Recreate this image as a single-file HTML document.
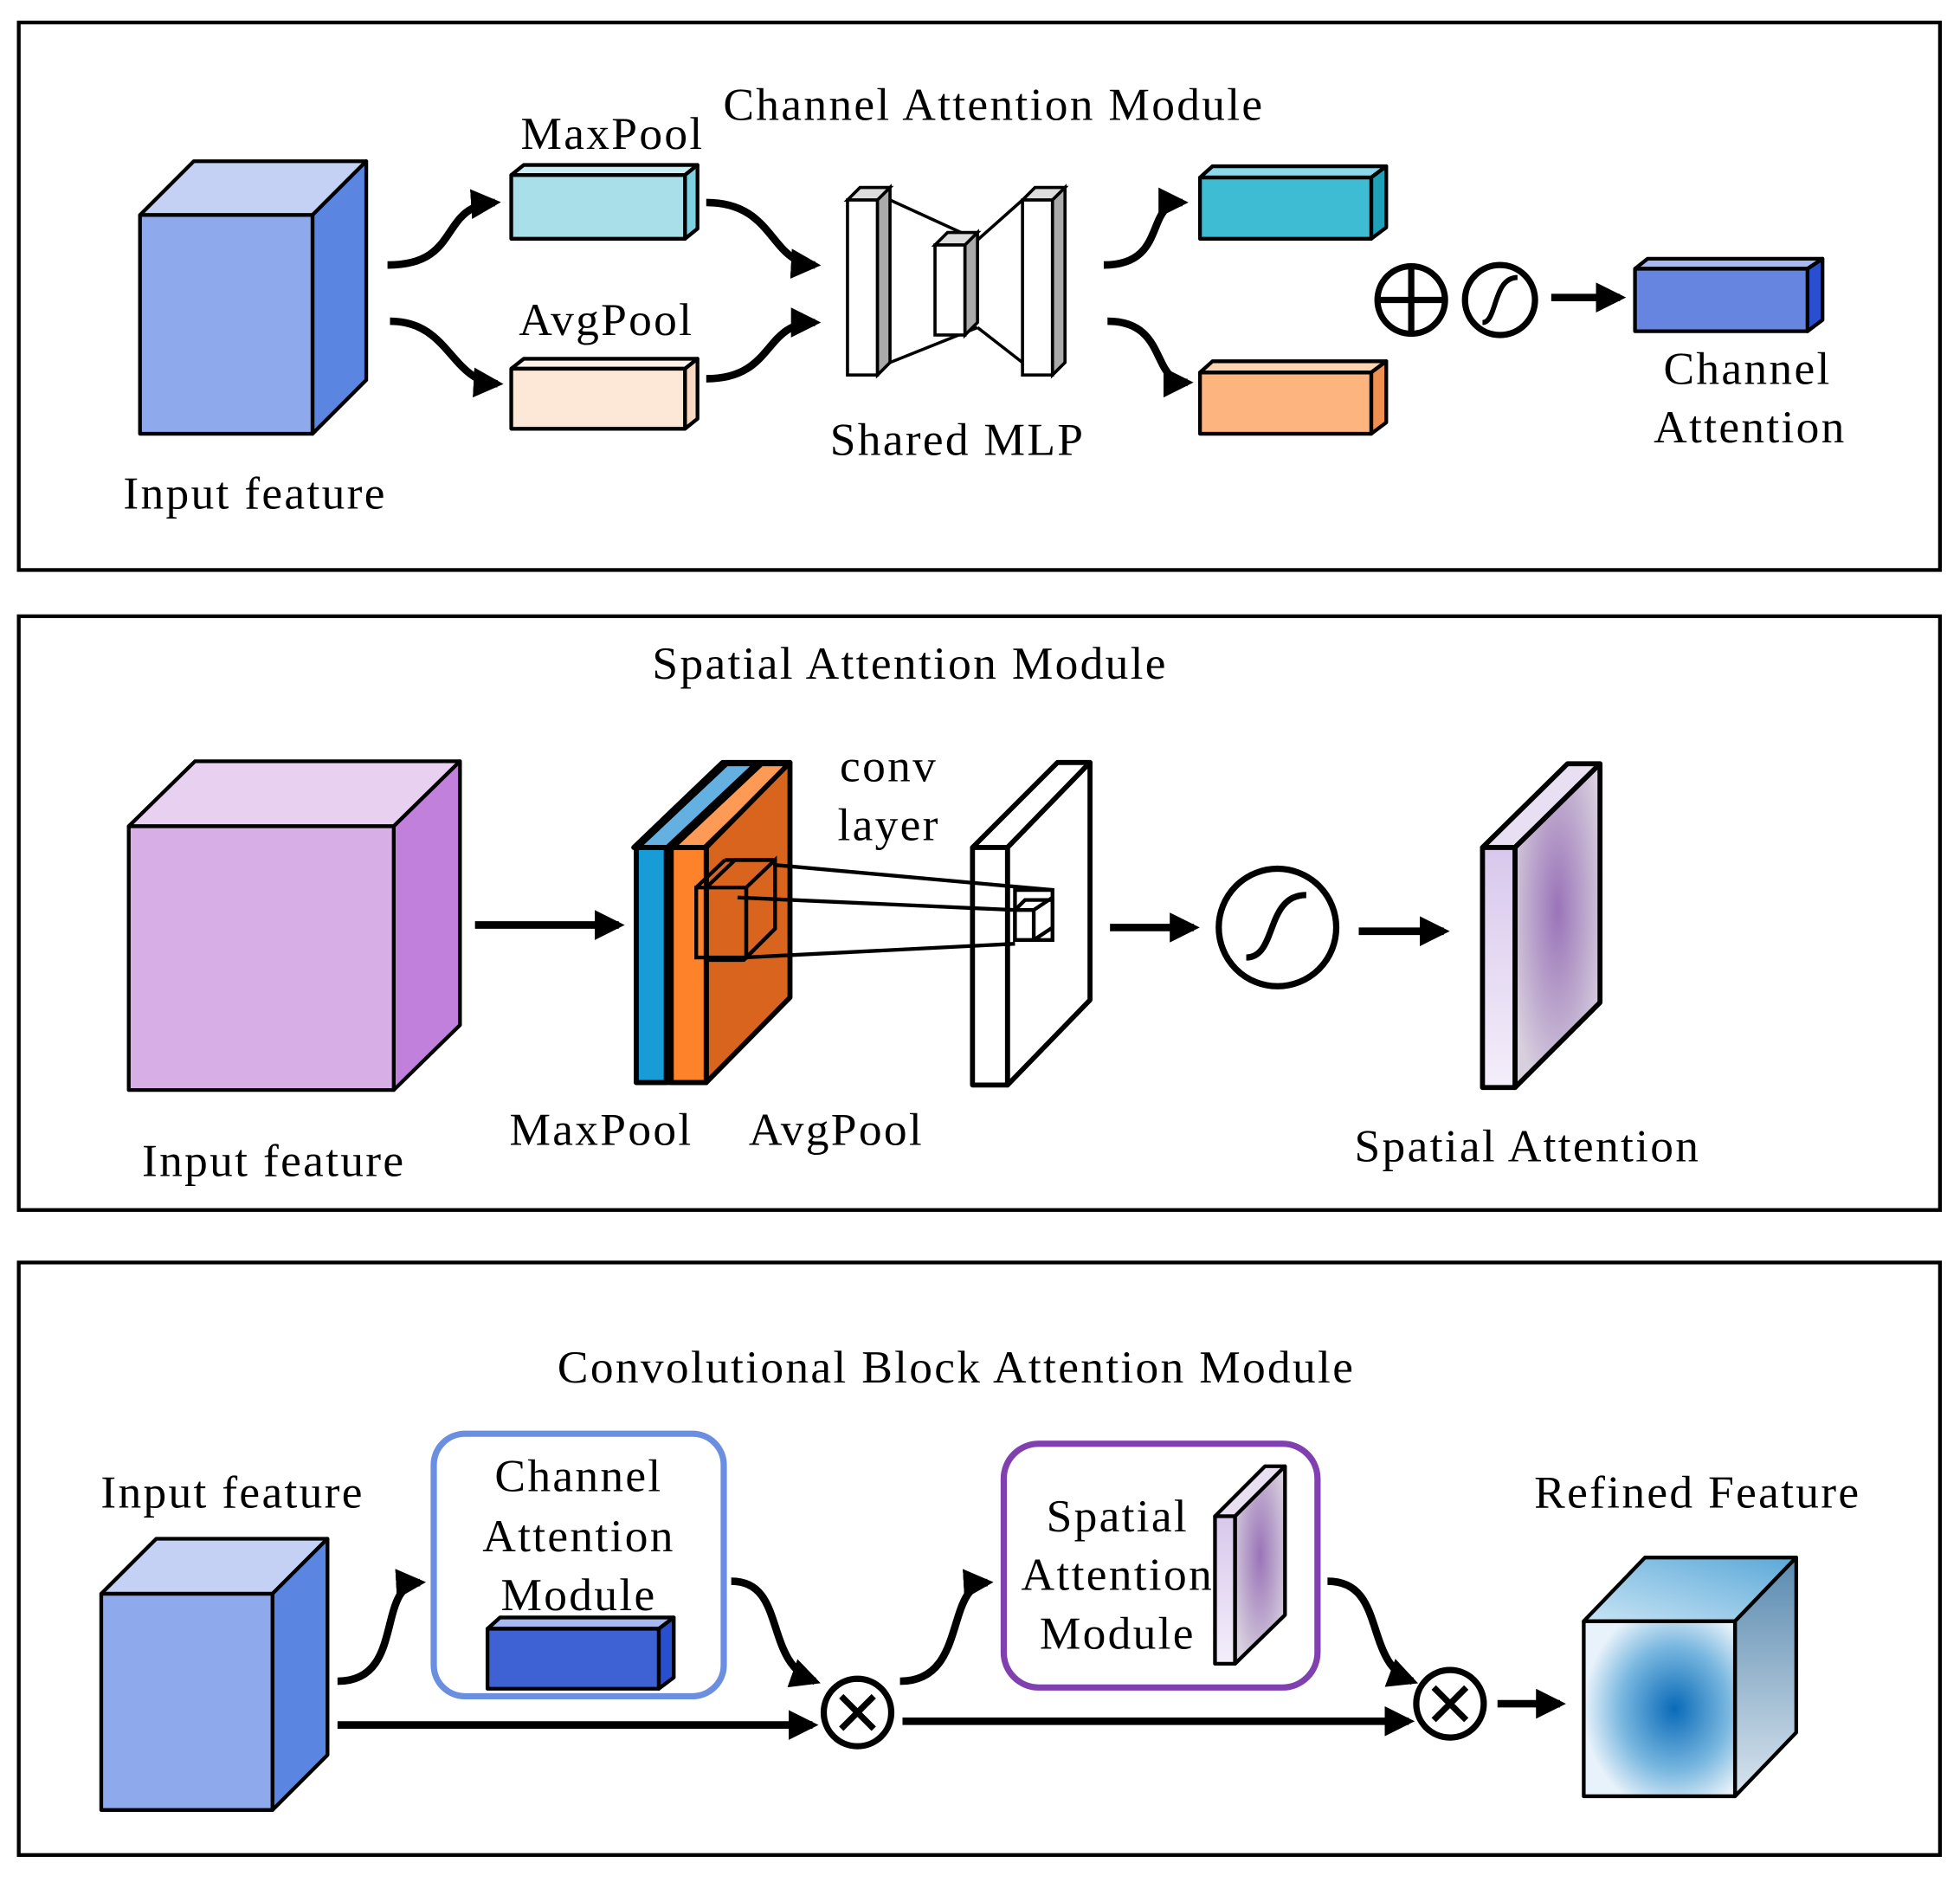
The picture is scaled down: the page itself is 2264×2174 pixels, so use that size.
<!DOCTYPE html>
<html><head><meta charset="utf-8"><style>
html,body{margin:0;padding:0;background:#fff}
svg{display:block}
text{font-family:"Liberation Serif",serif;font-size:37px;fill:#000;letter-spacing:1.6px}
</style></head><body>
<svg width="2264" height="2174" viewBox="0 0 1568 1505.6" preserveAspectRatio="none" xmlns="http://www.w3.org/2000/svg">
<defs>
<marker id="ah" viewBox="0 0 10 10" refX="8" refY="5" markerWidth="4" markerHeight="4" orient="auto"><path d="M0,0 L10,5 L0,10 z" fill="#000"/></marker>
<radialGradient id="sp" cx="0.5" cy="0.45" r="0.6"><stop offset="0" stop-color="#9a74b8"/><stop offset="1" stop-color="#d8d0de"/></radialGradient>
<linearGradient id="spf" x1="0" y1="0" x2="0" y2="1"><stop offset="0" stop-color="#d8c8ec"/><stop offset="1" stop-color="#f4eefa"/></linearGradient>
<radialGradient id="rf" cx="0.6" cy="0.5" r="0.6"><stop offset="0" stop-color="#0a6ab8"/><stop offset="0.6" stop-color="#7ab8e0"/><stop offset="1" stop-color="#e8f2fa"/></radialGradient>
<linearGradient id="rft" x1="0" y1="1" x2="1" y2="0"><stop offset="0" stop-color="#c8e4f4"/><stop offset="1" stop-color="#5aa8d8"/></linearGradient>
<linearGradient id="rfs" x1="0" y1="0" x2="0" y2="1"><stop offset="0" stop-color="#5a8ab0"/><stop offset="1" stop-color="#d8e4ee"/></linearGradient>
</defs>
<g fill="none" stroke="#000" stroke-width="3">
<rect x="15" y="18" width="1537" height="438"/>
<rect x="15" y="493" width="1537" height="475"/>
<rect x="15" y="1010" width="1537" height="474"/>
</g>
<g stroke="#000" stroke-width="3" stroke-linejoin="round">
<polygon points="112,172 155,129 293,129 250,172" fill="#c4d0f4"/>
<polygon points="250,172 293,129 293,304 250,347" fill="#5a86e2"/>
<rect x="112" y="172" width="138" height="175" fill="#8eaaec"/>
<polygon points="409,140 419,132 558,132 548,140" fill="#c8eef4"/>
<polygon points="548,140 558,132 558,183 548,191" fill="#7cd0e0"/>
<rect x="409" y="140" width="139" height="51" fill="#a8dfe8"/>
<polygon points="409,295 419,287 558,287 548,295" fill="#fff4ec"/>
<polygon points="548,295 558,287 558,335 548,343" fill="#f8d8c0"/>
<rect x="409" y="295" width="139" height="48" fill="#fde8d8"/>
<polygon points="960,142 970,133 1109,133 1097,142" fill="#8ad8e8"/>
<polygon points="1097,142 1109,133 1109,182 1097,191" fill="#1ea0b8"/>
<rect x="960" y="142" width="137" height="49" fill="#3dbcd4"/>
<polygon points="960,298 970,289 1109,289 1097,298" fill="#fdd4b0"/>
<polygon points="1097,298 1109,289 1109,338 1097,347" fill="#f09050"/>
<rect x="960" y="298" width="137" height="49" fill="#fdb47e"/>
<polygon points="1308,215 1318,207 1458,207 1446,215" fill="#a8b8f0"/>
<polygon points="1446,215 1458,207 1458,256 1446,265" fill="#2a4ed0"/>
<rect x="1308" y="215" width="138" height="50" fill="#6685e0"/>
</g>
<g stroke="#000" stroke-width="2.5" fill="#fff">
<line x1="712" y1="160" x2="782" y2="192"/><line x1="712" y1="290" x2="782" y2="262"/>
<line x1="782" y1="192" x2="818" y2="160"/><line x1="782" y1="262" x2="818" y2="290"/>
<polygon points="678,160 688,150 712,150 702,160" fill="#ddd"/>
<rect x="678" y="160" width="24" height="140"/><polygon points="702,160 712,150 712,290 702,300" fill="#aaa"/>
<polygon points="748,196 758,186 782,186 772,196" fill="#ddd"/>
<rect x="748" y="196" width="24" height="72"/><polygon points="772,196 782,186 782,258 772,268" fill="#aaa"/>
<polygon points="818,160 828,150 852,150 842,160" fill="#ddd"/>
<rect x="818" y="160" width="24" height="140"/><polygon points="842,160 852,150 852,290 842,300" fill="#aaa"/>
</g>
<g fill="none" stroke="#000" stroke-width="6" marker-end="url(#ah)">
<path d="M310,212 C370,212 350,165 396,162"/>
<path d="M312,257 C360,257 360,305 398,307"/>
<path d="M565,162 C620,162 615,210 652,212"/>
<path d="M565,303 C620,303 610,258 652,258"/>
<path d="M883,212 C935,212 915,162 946,162"/>
<path d="M886,257 C935,257 920,306 950,306"/>
<path d="M1241,238 L1296,238"/>
</g>
<g fill="none" stroke="#000" stroke-width="5">
<circle cx="1129" cy="240" r="27"/><line x1="1102" y1="240" x2="1156" y2="240"/><line x1="1129" y1="213" x2="1129" y2="267"/>
<circle cx="1200" cy="240" r="28"/><path d="M1186,258 C1198,258 1194,222 1214,222" stroke-width="4"/>
</g>
<text x="795" y="96" text-anchor="middle">Channel Attention Module</text>
<text x="490" y="119" text-anchor="middle">MaxPool</text>
<text x="485" y="268" text-anchor="middle">AvgPool</text>
<text x="766" y="364" text-anchor="middle">Shared MLP</text>
<text x="204" y="407" text-anchor="middle">Input feature</text>
<text x="1398" y="307" text-anchor="middle">Channel</text>
<text x="1400" y="354" text-anchor="middle">Attention</text>
<g stroke="#000" stroke-width="3" stroke-linejoin="round">
<polygon points="103,661 156,609 368,609 315,661" fill="#e8d0f0"/>
<polygon points="315,661 368,609 368,820 315,872" fill="#c080dc"/>
<rect x="103" y="661" width="212" height="211" fill="#d8aee6"/>
</g>
<g stroke="#000" stroke-width="4" stroke-linejoin="round">
<polygon points="507,678 578,610 632,610 565,678" fill="#000"/>
<polygon points="515,676 582,613 600,613 533,676" fill="#64b0e0" stroke="none"/>
<polygon points="543,676 610,613 628,613 563,676" fill="#fd9a56" stroke="none"/>
<polygon points="565,678 632,610 632,798 565,866" fill="#d8641e"/>
<rect x="509" y="678" width="24" height="188" fill="#189cd8"/>
<rect x="537" y="678" width="28" height="188" fill="#fd822a"/>
<rect x="509" y="678" width="56" height="188" fill="none"/>
</g>
<g fill="none" stroke="#000" stroke-width="3">
<rect x="557" y="710" width="40" height="56"/>
<polygon points="597,710 620,688 620,743 597,766"/>
<line x1="557" y1="710" x2="580" y2="688"/><line x1="580" y1="688" x2="620" y2="688"/>
<polygon points="565,710 588,688 620,688 620,743 595,768 565,768"/>
</g>
<g stroke="#000" stroke-width="4" stroke-linejoin="round" fill="#fff">
<polygon points="778,678 846,610 872,610 806,678"/>
<polygon points="806,678 872,610 872,800 806,868"/>
<rect x="778" y="678" width="28" height="190"/>
</g>
<g fill="none" stroke="#000" stroke-width="3">
<line x1="620" y1="692" x2="842" y2="712"/>
<line x1="590" y1="718" x2="812" y2="728"/>
<line x1="595" y1="766" x2="812" y2="755"/>
<rect x="812" y="712" width="30" height="40" fill="none"/>
<polygon points="812,728 820,720 842,720 842,742 827,752 812,752" fill="#fff"/>
<line x1="827" y1="728" x2="827" y2="752"/><line x1="812" y1="728" x2="827" y2="728"/><line x1="827" y1="728" x2="842" y2="718"/>
</g>
<g fill="none" stroke="#000" stroke-width="6" marker-end="url(#ah)">
<path d="M380,740 L495,740"/>
<path d="M888,742 L955,742"/>
<path d="M1087,745 L1155,745"/>
</g>
<g fill="none" stroke="#000" stroke-width="5">
<circle cx="1022" cy="742" r="47"/>
<path d="M997,766 C1022,766 1012,716 1045,716" stroke-width="5"/>
</g>
<g stroke="#000" stroke-width="4" stroke-linejoin="round">
<polygon points="1186,678 1254,611 1280,611 1212,678" fill="#e8e0f2"/>
<polygon points="1212,678 1280,611 1280,802 1212,870" fill="url(#sp)"/>
<rect x="1186" y="678" width="26" height="192" fill="url(#spf)"/>
</g>
<text x="728" y="543" text-anchor="middle">Spatial Attention Module</text>
<text x="711" y="625" text-anchor="middle">conv</text>
<text x="711" y="672" text-anchor="middle">layer</text>
<text x="481" y="916" text-anchor="middle">MaxPool</text>
<text x="669" y="916" text-anchor="middle">AvgPool</text>
<text x="219" y="941" text-anchor="middle">Input feature</text>
<text x="1222" y="929" text-anchor="middle">Spatial Attention</text>
<text x="765" y="1106" text-anchor="middle">Convolutional Block Attention Module</text>
<text x="186" y="1206" text-anchor="middle">Input feature</text>
<text x="1358" y="1206" text-anchor="middle">Refined Feature</text>
<g stroke="#000" stroke-width="3" stroke-linejoin="round">
<polygon points="81,1275 125,1231 262,1231 218,1275" fill="#c4d0f4"/>
<polygon points="218,1275 262,1231 262,1404 218,1448" fill="#5a86e2"/>
<rect x="81" y="1275" width="137" height="173" fill="#8eaaec"/>
</g>
<rect x="347" y="1147" width="232" height="210" rx="25" fill="none" stroke="#6a8ee0" stroke-width="5"/>
<text x="463" y="1193" text-anchor="middle">Channel</text>
<text x="463" y="1241" text-anchor="middle">Attention</text>
<text x="463" y="1288" text-anchor="middle">Module</text>
<g stroke="#000" stroke-width="3" stroke-linejoin="round">
<polygon points="390,1303 400,1294 539,1294 527,1303" fill="#a8b8f0"/>
<polygon points="527,1303 539,1294 539,1342 527,1351" fill="#2a4ed0"/>
<rect x="390" y="1303" width="137" height="48" fill="#3e62d4"/>
</g>
<rect x="803" y="1155" width="251" height="195" rx="28" fill="none" stroke="#8040b0" stroke-width="5"/>
<text x="894" y="1225" text-anchor="middle">Spatial</text>
<text x="894" y="1272" text-anchor="middle">Attention</text>
<text x="894" y="1319" text-anchor="middle">Module</text>
<g stroke="#000" stroke-width="3" stroke-linejoin="round">
<polygon points="972,1213 1012,1173 1028,1173 988,1213" fill="#e8e0f2"/>
<polygon points="988,1213 1028,1173 1028,1292 988,1331" fill="url(#sp)"/>
<rect x="972" y="1213" width="16" height="118" fill="url(#spf)"/>
</g>
<g fill="none" stroke="#000" stroke-width="6" marker-end="url(#ah)">
<path d="M270,1380 L650,1380"/>
<path d="M722,1377 L1127,1377"/>
<path d="M270,1345 C325,1345 300,1268 336,1266"/>
<path d="M585,1265 C630,1265 610,1330 652,1345"/>
<path d="M720,1345 C775,1345 755,1268 790,1266"/>
<path d="M1062,1265 C1110,1265 1090,1330 1130,1345"/>
<path d="M1198,1363 L1248,1363"/>
</g>
<g fill="none" stroke="#000" stroke-width="5">
<circle cx="686" cy="1370" r="27"/><line x1="673" y1="1357" x2="699" y2="1383"/><line x1="699" y1="1357" x2="673" y2="1383"/>
<circle cx="1160" cy="1363" r="27"/><line x1="1147" y1="1350" x2="1173" y2="1376"/><line x1="1173" y1="1350" x2="1147" y2="1376"/>
</g>
<g stroke="#000" stroke-width="3" stroke-linejoin="round">
<polygon points="1267,1297 1316,1246 1437,1246 1388,1297" fill="url(#rft)"/>
<polygon points="1388,1297 1437,1246 1437,1386 1388,1437" fill="url(#rfs)"/>
<rect x="1267" y="1297" width="121" height="140" fill="url(#rf)"/>
</g>
</svg>
</body></html>
